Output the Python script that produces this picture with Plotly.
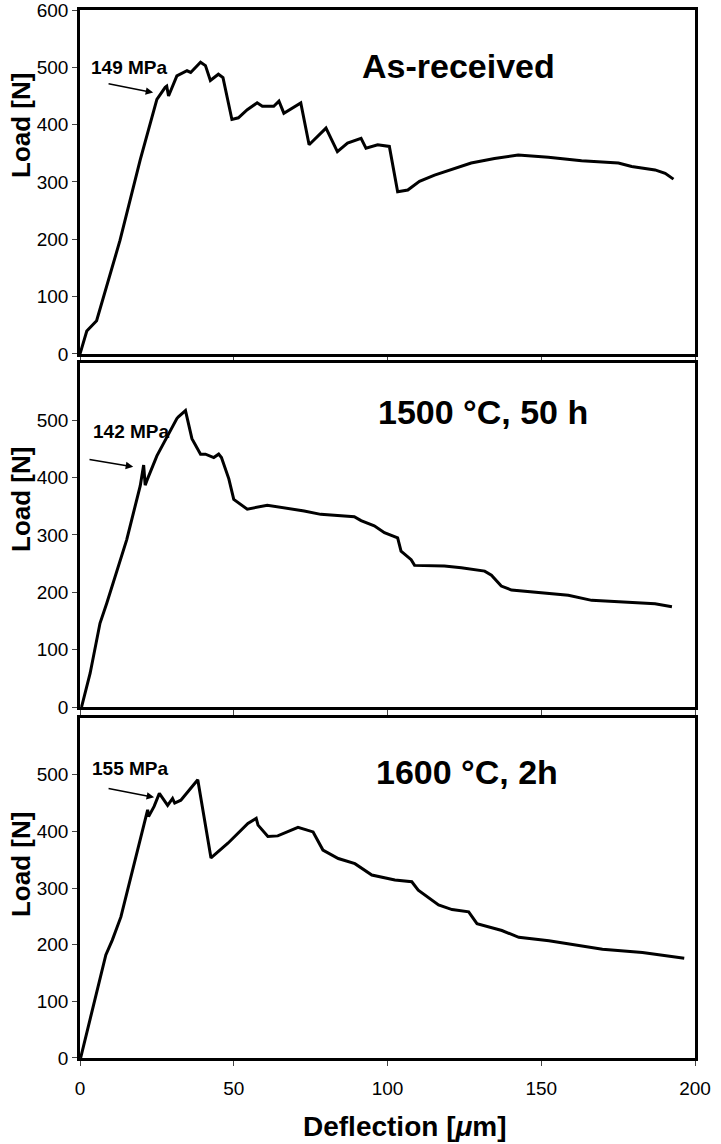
import plotly.graph_objects as go
from plotly.subplots import make_subplots

# Load-deflection curves
top_x = [0, 2.2, 5.4, 13, 19.6, 25, 27.7, 28.2, 28.8, 31.5, 34.8, 36, 39.2, 40.8, 42.4, 45, 46.5,
         49.4, 51.5, 54.4, 57.6, 59.3, 63, 64.7, 66.3, 71.8, 74.5, 80, 83.7, 87, 91.4, 93, 96.8,
         100.6, 103.3, 106.6, 110.4, 115.3, 127.2, 134.8, 142.5, 152.3, 163.1, 175.1, 179.4, 187,
         190.3, 193]
top_y = [0, 40, 58, 198, 339, 444, 465, 467, 450, 485, 494, 491, 509, 503, 477, 488, 482,
         409, 412, 426, 438, 432, 432, 441, 420, 438, 365, 394, 353, 368, 376, 359, 365,
         362, 283, 286, 301, 312, 333, 341, 347, 343, 337, 333, 327, 321,
         315, 305]

mid_x = [0.5, 3.3, 6.5, 8.7, 15.2, 19.6, 20.7, 21.2, 21.9, 25, 31.5, 32, 34.3, 36.4, 39.2, 40.8,
         43.5, 45.1, 46, 48.4, 50, 54.4, 60.9, 72.9, 78.3, 89.2, 91.4, 95.7, 99, 103.3, 104.4,
         107.7, 108.8, 118.5, 124, 131.6, 133.8, 137, 140.3, 149, 158.8, 166.4, 178.4, 187, 192.5]
mid_y = [0, 59, 146, 181, 292, 386, 422, 387, 397, 438, 503, 506, 517, 468, 441, 441,
         435, 441, 435, 398, 362, 345, 352, 342, 336, 332, 325, 316, 304, 295, 272,
         257, 247, 246, 243, 237, 230, 211, 204, 200, 195, 186, 183, 180, 175]

bot_x = [0.2, 3.5, 7.8, 8.4, 10.5, 13.3, 20.9, 22, 22.3, 24.1, 25.8, 28.5, 30.1, 30.8, 32.8,
         38.3, 42.6, 48.1, 54.6, 57.3, 57.9, 61.1, 64.3, 70.9, 75.8, 79, 84, 89.4, 94.9, 102.4,
         107.9, 110, 116.6, 121, 126.4, 129.1, 137.2, 140.5, 142.7, 152.5, 155.8, 162.3, 169.9,
         182.9, 196.5]
bot_y = [0, 73, 167, 182, 208, 249, 414, 438, 426, 444, 467, 446, 458, 450, 455,
         491, 353, 379, 414, 423, 411, 391, 392, 407, 399, 367, 352, 343, 323, 314,
         311, 296, 270, 262, 258, 237, 225, 217, 213, 207, 204, 199, 192,
         186, 176]

panel_titles = ['As-received', '1500 \u00b0C, 50 h', '1600 \u00b0C, 2h']
strength_labels = ['149 MPa', '142 MPa', '155 MPa']

x_ticks = [0, 50, 100, 150, 200]
y_ticks_top = [0, 100, 200, 300, 400, 500, 600]
y_ticks_rest = [0, 100, 200, 300, 400, 500]

FONT = 'Liberation Sans, Arial, sans-serif'

fig = make_subplots(rows=3, cols=1, shared_xaxes=False, vertical_spacing=0.01)

series = [(top_x, top_y), (mid_x, mid_y), (bot_x, bot_y)]
for i, (xs, ys) in enumerate(series):
    fig.add_trace(go.Scatter(x=xs, y=ys, mode='lines',
                             line=dict(color='black', width=3),
                             showlegend=False), row=i + 1, col=1)

# dominios de cada panel (pixeles medidos)
domains = [[0.6718, 1.0], [0.3349, 0.6632], [0.0, 0.3244]]
# desplazamiento vertical del titulo "Load [N]" respecto al centro del panel
load_shift = [56, 35, 23]
for i in range(3):
    n = '' if i == 0 else str(i + 1)
    fig.layout['xaxis' + n].update(
        domain=[0, 1], range=[0, 200], tickvals=x_ticks, automargin=False,
        showticklabels=(i == 2), ticks='outside', ticklen=5, tickwidth=1,
        ticklabelstandoff=6,
        showline=True, linewidth=2.5, linecolor='black', mirror=True,
        showgrid=False, zeroline=False, ticklabeloverflow='allow',
        tickfont=dict(family=FONT, size=19, color='black'))
    fig.layout['yaxis' + n].update(
        domain=domains[i], range=[0, 600], automargin=False,
        tickvals=y_ticks_top if i == 0 else y_ticks_rest,
        ticks='outside', ticklen=5, tickwidth=1,
        showline=True, linewidth=2.5, linecolor='black', mirror=True,
        showgrid=False, zeroline=False, ticklabeloverflow='allow',
        tickfont=dict(family=FONT, size=19, color='black'))
    # titulo del eje y como anotacion (se superpone a las etiquetas como en el original)
    fig.add_annotation(x=0, y=sum(domains[i]) / 2, xref='paper', yref='paper',
                       xanchor='center', yanchor='middle',
                       xshift=-59, yshift=load_shift[i], text='<b>Load [N]</b>', textangle=-90,
                       showarrow=False, font=dict(family=FONT, size=26, color='black'))

# titulo del eje x, algo desplazado a la derecha como en el original
fig.add_annotation(x=0.528, y=0, xref='paper', yref='paper', xanchor='center', yanchor='middle',
                   yshift=-68, text='<b>Deflection [<i>\u03bc</i>m]</b>', showarrow=False,
                   font=dict(family=FONT, size=28, color='black'))

# titulos de panel
title_pos = [(123, 502), (131, 515), (126, 504)]
for i, (tx, ty) in enumerate(title_pos):
    n = '' if i == 0 else str(i + 1)
    fig.add_annotation(x=tx, y=ty, xref='x' + n, yref='y' + n, text='<b>' + panel_titles[i] + '</b>',
                       showarrow=False, font=dict(family=FONT, size=34, color='black'))

# etiquetas de resistencia con flecha
label_pos = [(16, 500), (16.6, 481), (16.3, 511)]
arrow_tail = [(8.8, 472), (2.6, 432), (8.8, 476)]
arrow_head = [(23.8, 456), (17.3, 419), (24.1, 460)]
for i in range(3):
    n = '' if i == 0 else str(i + 1)
    fig.add_annotation(x=label_pos[i][0], y=label_pos[i][1], xref='x' + n, yref='y' + n,
                       text='<b>' + strength_labels[i] + '</b>', showarrow=False,
                       font=dict(family=FONT, size=19, color='black'))
    fig.add_annotation(x=arrow_head[i][0], y=arrow_head[i][1], ax=arrow_tail[i][0], ay=arrow_tail[i][1],
                       xref='x' + n, yref='y' + n, axref='x' + n, ayref='y' + n,
                       text='', showarrow=True, arrowhead=2, arrowsize=1, arrowwidth=1.5,
                       arrowcolor='black')

fig.update_layout(
    width=721, height=1144,
    margin=dict(l=80, r=26, t=10, b=86),
    plot_bgcolor='white', paper_bgcolor='white',
    font=dict(family=FONT, color='black'),
)

# quitar el margen por defecto del body para que la figura quede en (0, 0)
fig.write_html('out.html', config={'displayModeBar': False},
               post_script="document.body.style.margin='0px';")
